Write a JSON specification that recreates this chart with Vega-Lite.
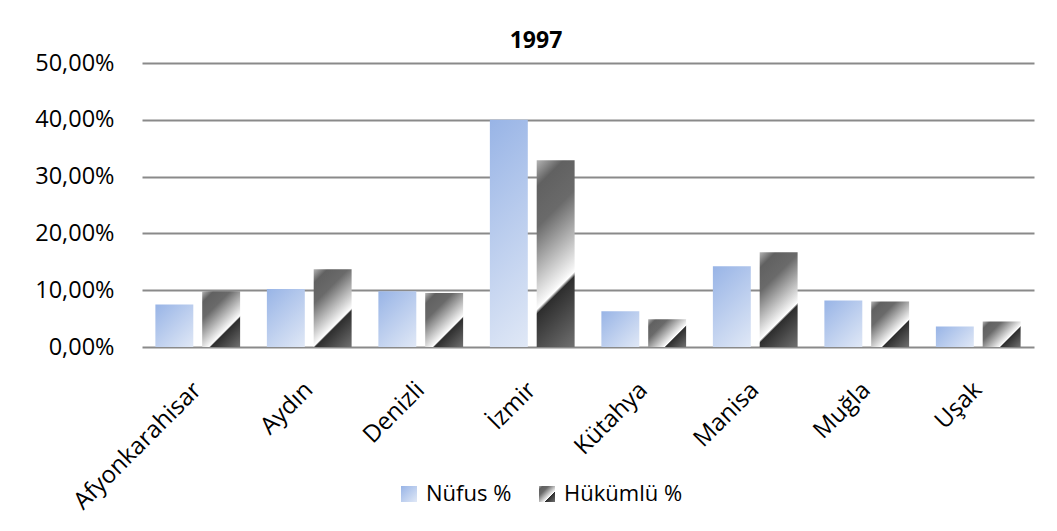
{
  "$schema": "https://vega.github.io/schema/vega-lite/v6.json",
  "width": 892,
  "height": 284,
  "autosize": {"type": "none"},
  "padding": {"left": 142, "top": 63, "right": 23, "bottom": 184},
  "background": "white",
  "config": {
    "locale": {"number": {"decimal": ",", "thousands": ".", "grouping": [3], "currency": ["", " TL"]}},
    "view": {"stroke": null},
    "font": "Open Sans"
  },
  "title": {
    "text": "1997",
    "font": "Open Sans",
    "fontSize": 23,
    "fontWeight": "bold",
    "color": "#000000",
    "anchor": "middle",
    "dx": -52,
    "offset": -2
  },
  "data": {
    "values": [
      {"il": "Afyonkarahisar", "seri": "Nüfus %", "deger": 0.075},
      {"il": "Afyonkarahisar", "seri": "Hükümlü %", "deger": 0.098},
      {"il": "Aydın", "seri": "Nüfus %", "deger": 0.102},
      {"il": "Aydın", "seri": "Hükümlü %", "deger": 0.137},
      {"il": "Denizli", "seri": "Nüfus %", "deger": 0.098},
      {"il": "Denizli", "seri": "Hükümlü %", "deger": 0.095},
      {"il": "İzmir", "seri": "Nüfus %", "deger": 0.400},
      {"il": "İzmir", "seri": "Hükümlü %", "deger": 0.329},
      {"il": "Kütahya", "seri": "Nüfus %", "deger": 0.063},
      {"il": "Kütahya", "seri": "Hükümlü %", "deger": 0.049},
      {"il": "Manisa", "seri": "Nüfus %", "deger": 0.142},
      {"il": "Manisa", "seri": "Hükümlü %", "deger": 0.167},
      {"il": "Muğla", "seri": "Nüfus %", "deger": 0.082},
      {"il": "Muğla", "seri": "Hükümlü %", "deger": 0.080},
      {"il": "Uşak", "seri": "Nüfus %", "deger": 0.036},
      {"il": "Uşak", "seri": "Hükümlü %", "deger": 0.045}
    ]
  },
  "mark": {"type": "bar", "strokeWidth": 0},
  "encoding": {
    "x": {
      "field": "il",
      "type": "nominal",
      "sort": null,
      "scale": {"paddingInner": 0.24, "paddingOuter": 0.12},
      "axis": {
        "title": null,
        "labelAngle": -45,
        "labelAlign": "right",
        "labelBaseline": "middle",
        "labelPadding": 39,
        "labelFontSize": 24,
        "labelFont": "Open Sans",
        "labelColor": "#000000",
        "ticks": false,
        "domain": false,
        "grid": false
      }
    },
    "xOffset": {
      "field": "seri",
      "type": "nominal",
      "scale": {"domain": ["Nüfus %", "Hükümlü %"], "paddingInner": 0.19}
    },
    "y": {
      "field": "deger",
      "type": "quantitative",
      "scale": {"domain": [0, 0.5], "nice": false},
      "axis": {
        "title": null,
        "format": ".2%",
        "values": [0, 0.1, 0.2, 0.3, 0.4, 0.5],
        "labelFontSize": 23.5,
        "labelFont": "Open Sans",
        "labelColor": "#000000",
        "labelPadding": 28,
        "ticks": false,
        "domain": false,
        "grid": true,
        "gridColor": "#8a8a8a",
        "gridWidth": 2,
        "zindex": 0
      }
    },
    "fill": {"value": {"expr": "(datum.seri || datum.value) === 'Nüfus %' ? {gradient: 'linear', x1: 0, y1: 0, x2: (datum.deger ? 0.0669/datum.deger : 1)*((datum.deger ? 0.0669/datum.deger : 1)+1)/(pow((datum.deger ? 0.0669/datum.deger : 1),2)+1), y2: ((datum.deger ? 0.0669/datum.deger : 1)+1)/(pow((datum.deger ? 0.0669/datum.deger : 1),2)+1), stops: [{offset: 0, color: '#98b4e6'}, {offset: 1, color: '#e0e8f6'}]} : {gradient: 'linear', x1: 0, y1: 0, x2: (datum.deger ? 0.0669/datum.deger : 1)*((datum.deger ? 0.0669/datum.deger : 1)+1)/(pow((datum.deger ? 0.0669/datum.deger : 1),2)+1), y2: ((datum.deger ? 0.0669/datum.deger : 1)+1)/(pow((datum.deger ? 0.0669/datum.deger : 1),2)+1), stops: [{offset: 0, color: '#b4b4b4'}, {offset: 0.12, color: '#616161'}, {offset: 0.3, color: '#6a6a6a'}, {offset: 0.64, color: '#f2f2f2'}, {offset: 0.665, color: '#ffffff'}, {offset: 0.685, color: '#2e2e2e'}, {offset: 1, color: '#707070'}]}"}},
    "stroke": {
      "field": "seri",
      "type": "nominal",
      "scale": {"domain": ["Nüfus %", "Hükümlü %"], "range": ["#98b4e6", "#6a6a6a"]},
      "legend": {
        "title": null,
        "orient": "none",
        "direction": "horizontal",
        "legendX": 256,
        "legendY": 420,
        "symbolType": "square",
        "symbolSize": 256,
        "symbolStrokeWidth": 0,
        "symbolOpacity": 1,
        "labelFontSize": 22,
        "labelFont": "Open Sans",
        "labelColor": "#000000",
        "labelOffset": 6,
        "columnPadding": 24
      }
    }
  }
}
